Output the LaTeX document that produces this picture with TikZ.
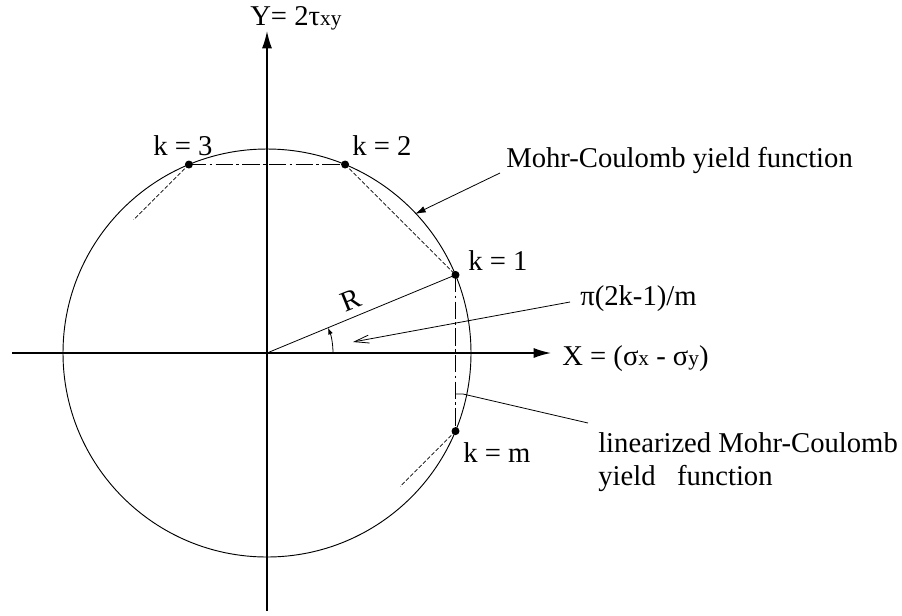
\documentclass[tikz,border=0pt]{standalone}
\usepackage{fontspec}
\setmainfont{Liberation Serif}
\usetikzlibrary{arrows.meta}
\newcommand{\lsub}[1]{{\fontsize{16}{16}\selectfont #1}}
\begin{document}
\begin{tikzpicture}[x=0.75pt,y=-0.75pt,
  every node/.style={font=\fontsize{21.5}{25}\selectfont, inner sep=0pt},
  axis/.style={line width=1.1pt, -{Latex[length=13pt,width=7.5pt]}},
  ring/.style={line width=0.7pt},
  dot/.style={circle, fill, minimum size=6pt, inner sep=0pt},
  dashdot/.style={line width=0.8pt, dash pattern=on 13pt off 2.5pt on 2pt off 2.5pt},
  fine/.style={line width=0.6pt, dash pattern=on 3pt off 1.5pt},
  thinline/.style={line width=0.6pt},
  lbl/.style={anchor=base west}]
\useasboundingbox (0,0) rectangle (902,615);
\coordinate (O) at (267,353);
\coordinate (ybot) at (267,611);
\coordinate (ytop) at (267,31);
\coordinate (xleft) at (12,353);
\coordinate (xright) at (551,353);
\draw[ring] (O) circle[radius=153pt];
\draw[axis] (ybot) -- (ytop);
\draw[axis] (xleft) -- (xright);
% vertices
\node[dot] (k1) at (455.5,274.9) {};
\node[dot] (k2) at (345.1,164.5) {};
\node[dot] (k3) at (188.9,164.5) {};
\node[dot] (km) at (455.5,431.1) {};
\coordinate (e3) at (133.7,219.7);
\coordinate (e8) at (400.3,486.3);
\draw[dashdot] (k3.center) -- (k2.center);
\draw[fine] (k2.center) -- (k1.center);
\draw[dashdot] (k1.center) -- (km.center);
\draw[fine] (k3.center) -- (e3);
\draw[fine] (km.center) -- (e8);
% radius and angle
\draw[thinline] (O) -- (k1.center);
\coordinate (a0) at (333,353);
\draw[thinline, -{Latex[length=5pt,width=3.5pt]}] (a0) arc[start angle=0,end angle=22.5,radius=49.5pt];
\node[rotate=22] (R) at (351,300) {R};
% labels
\node[lbl] (ylab) at (250,25) {Y= 2τ\lsub{xy}};
\node[lbl] (xlab) at (562,365) {X = (σ\lsub{x} - σ\lsub{y})};
\node[lbl] (l3) at (153,155) {k = 3};
\node[lbl] (l2) at (352,155) {k = 2};
\node[lbl] (l1) at (468,270) {k = 1};
\node[lbl] (lm) at (463,462) {k = m};
\node[lbl] (pil) at (580,305) {π(2k-1)/m};
\coordinate (pis) at (570,302);
\coordinate (pit) at (353,342);
\draw[thinline, -{Straight Barb[length=11pt,width=6pt]}] (pis) -- (pit);
\node[lbl] (mc) at (506,167) {Mohr-Coulomb yield function};
\coordinate (mcs) at (500,173);
\coordinate (mct) at (415,214);
\draw[thinline, -{Latex[length=8pt,width=5pt]}] (mcs) -- (mct);
\node[lbl] (lin1) at (598,452) {linearized Mohr-Coulomb};
\node[lbl] (lin2) at (598,485) {yield\ \ \ function};
\coordinate (ls) at (588,423);
\coordinate (lt) at (463,394);
\coordinate (lt2) at (455,394);
\draw[thinline] (ls) -- (lt) -- (lt2);
\end{tikzpicture}
\end{document}
